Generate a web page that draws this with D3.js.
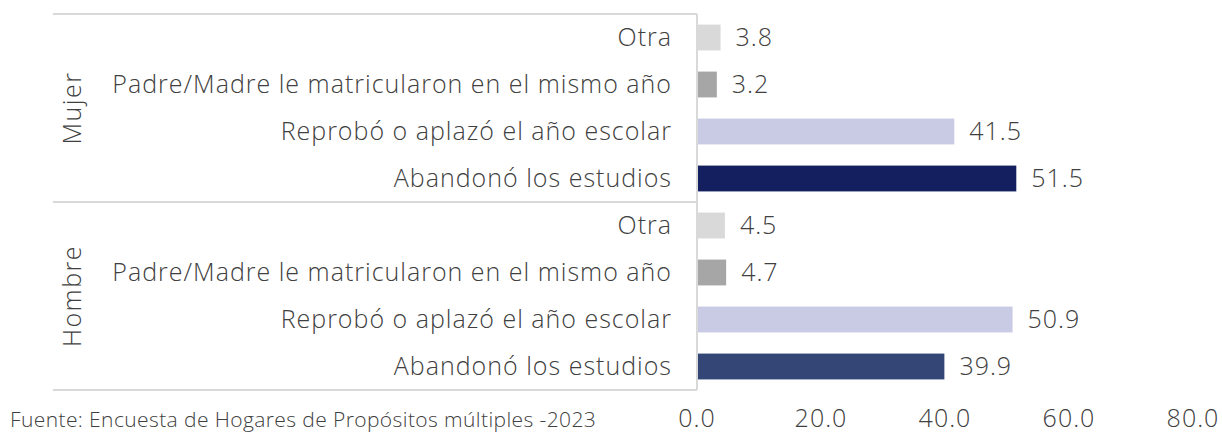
<!DOCTYPE html>
<html lang="es">
<head>
<meta charset="UTF-8">
<title>Chart</title>
<script src="https://d3js.org/d3.v7.min.js"></script>
<style>
  body { margin: 0; background: #fff; }
  text { font-family: "Open Sans", Lato, sans-serif; fill: #404040; font-weight: 300; }
</style>
</head>
<body>
<script>
// datos
var groups = ["Mujer", "Hombre"];
var categories = ["Otra", "Padre/Madre le matricularon en el mismo año", "Reprobó o aplazó el año escolar", "Abandonó los estudios"];
var mujerValues = [3.8, 3.2, 41.5, 51.5];
var hombreValues = [4.5, 4.7, 50.9, 39.9];
var xTicks = [0, 20, 40, 60, 80];
var mujerColors = ["#d9d9d9", "#a6a6a6", "#c9cbe5", "#131f5e"];
var hombreColors = ["#d9d9d9", "#a6a6a6", "#c9cbe5", "#334676"];
var source = "Fuente: Encuesta de Hogares de Propósitos múltiples -2023";

var width = 1222, height = 433;
var x0 = 697, plotTop = 14, plotBottom = 390;
var fs = 25, ls = "1px";

var rows = [];
groups.forEach(function(g, gi) {
  var vals = gi == 0 ? mujerValues : hombreValues;
  var cols = gi == 0 ? mujerColors : hombreColors;
  categories.forEach(function(c, ci) {
    rows.push({ key: g + "|" + c, group: g, cat: c, value: vals[ci], color: cols[ci] });
  });
});

var svg = d3.select("body").append("svg").attr("width", width).attr("height", height);

var x = d3.scaleLinear().domain([0, 80]).range([x0, 1193]);
var y = d3.scaleBand().domain(rows.map(function(d) { return d.key; }))
  .range([plotTop, plotBottom]).paddingInner(0.45).paddingOuter(0.225);

// bars
svg.selectAll(".bar").data(rows).enter().append("rect")
  .attr("x", x(0))
  .attr("y", function(d) { return y(d.key); })
  .attr("width", function(d) { return x(d.value) - x(0); })
  .attr("height", y.bandwidth())
  .attr("fill", function(d) { return d.color; });

// value labels
svg.selectAll(".val").data(rows).enter().append("text")
  .attr("x", function(d) { return x(d.value) + 15; })
  .attr("y", function(d) { return y(d.key) + y.bandwidth() / 2; })
  .attr("dy", "0.35em")
  .attr("font-size", fs)
  .attr("letter-spacing", ls)
  .text(function(d) { return d.value.toFixed(1); });

// category labels
svg.selectAll(".cat").data(rows).enter().append("text")
  .attr("x", 672)
  .attr("y", function(d) { return y(d.key) + y.bandwidth() / 2; })
  .attr("dy", "0.35em")
  .attr("text-anchor", "end")
  .attr("font-size", fs)
  .attr("letter-spacing", ls)
  .text(function(d) { return d.cat; });

// lineas del eje de categorias
var groupH = (plotBottom - plotTop) / groups.length;
var lineColor = "#d9d9d9";
d3.range(groups.length + 1).forEach(function(i) {
  svg.append("line")
    .attr("x1", 53).attr("x2", x0)
    .attr("y1", plotTop + i * groupH).attr("y2", plotTop + i * groupH)
    .attr("stroke", lineColor).attr("stroke-width", 2);
});
svg.append("line")
  .attr("x1", x0).attr("x2", x0).attr("y1", plotTop).attr("y2", plotBottom)
  .attr("stroke", lineColor).attr("stroke-width", 2);

// group labels
groups.forEach(function(g, i) {
  var cy = plotTop + (i + 0.5) * groupH;
  svg.append("text")
    .attr("transform", "translate(72," + cy + ") rotate(-90)")
    .attr("text-anchor", "middle")
    .attr("dy", "0.35em")
    .attr("font-size", fs)
    .attr("letter-spacing", "1.5px")
    .text(g);
});

// x axis labels
svg.selectAll(".tick").data(xTicks).enter().append("text")
  .attr("x", function(d) { return x(d); })
  .attr("y", 427)
  .attr("text-anchor", "middle")
  .attr("font-size", fs)
  .attr("letter-spacing", ls)
  .text(function(d) { return d.toFixed(1); });

svg.append("text")
  .attr("x", 10).attr("y", 427)
  .attr("font-size", 21)
  .attr("letter-spacing", "0.4px")
  .text(source);
</script>
</body>
</html>
